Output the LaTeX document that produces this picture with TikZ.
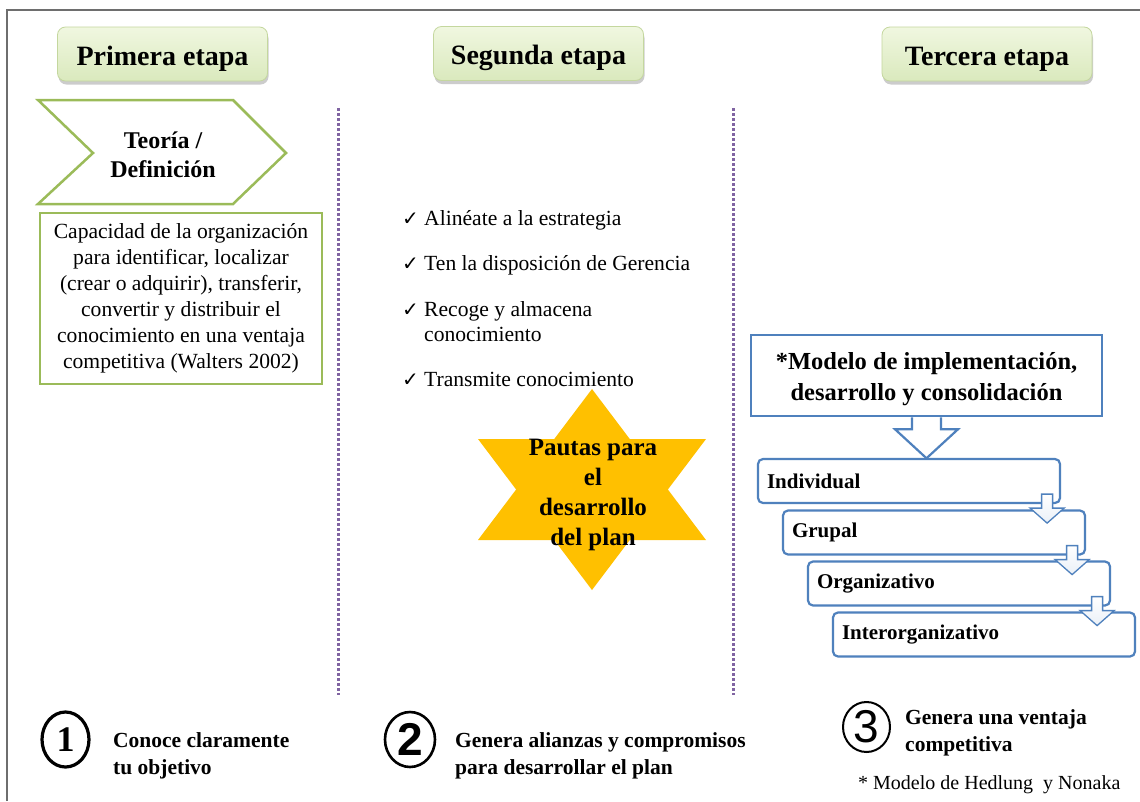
\documentclass[tikz,border=0pt]{standalone}
\usepackage{fontspec}
\setmainfont{Liberation Serif}
\newfontfamily\symfont{DejaVu Sans}
\newfontfamily\sansfnt{Liberation Sans}
\usetikzlibrary{shadows,calc,shapes.geometric}
\definecolor{hdrtop}{HTML}{F0F7E0}
\definecolor{hdrbot}{HTML}{DAE9BD}
\definecolor{hdredge}{HTML}{C4D79E}
\definecolor{grn}{HTML}{9BBB59}
\definecolor{purp}{HTML}{8064A2}
\definecolor{blu}{HTML}{4F81BD}
\definecolor{gold}{HTML}{FFC000}
\definecolor{framegray}{HTML}{6E6E6E}
\begin{document}
\begin{tikzpicture}[x=1pt,y=-1pt,
  hdr/.style={draw=hdredge, line width=0.8pt, rounded corners=8pt,
    top color=hdrtop, bottom color=hdrbot, minimum width=210pt, minimum height=54pt,
    text height=22pt, text depth=0pt,
    font=\fontsize{28}{32}\selectfont\bfseries,
    drop shadow={shadow xshift=1pt, shadow yshift=-3.5pt, opacity=0.4}},
  body/.style={font=\fontsize{21.6}{26}\selectfont},
  chk/.style={font=\symfont\fontsize{20}{20}\selectfont, anchor=base east, inner sep=0pt},
  item/.style={body, anchor=base west, inner sep=0pt, align=left},
  stk/.style={draw=blu, line width=2.2pt, rounded corners=5pt, fill=white,
    minimum width=302pt, minimum height=44pt, text width=284pt, inner xsep=9pt,
    align=left, font=\fontsize{21}{25}\selectfont\bfseries},
  bot/.style={anchor=west, inner sep=0pt, align=left, font=\fontsize{21.5}{27}\selectfont\bfseries},
  numc/.style={ellipse, draw, inner sep=0pt},
  sdown/.pic={\draw[blu, line width=1.3pt, top color=white, bottom color=blu!12]
     (-5.5,0) -- (5.5,0) -- (5.5,14) -- (17,14) -- (0,29) -- (-17,14) -- (-5.5,14) -- cycle;},
  bigdown/.pic={\draw[blu, line width=2.2pt, fill=white]
     (-14.5,0) -- (-14.5,12) -- (-31.5,12) -- (0,41) -- (31.5,12) -- (14.5,12) -- (14.5,0);}
]
\useasboundingbox (0,0) rectangle (1140,801);
\fill[white] (0,0) rectangle (1140,801);
% frame
\draw[framegray, line width=1.2pt] (7,801) -- (7,10) -- (1140,10);

% headers
\node[hdr] (h1) at (162.5,54) {Primera etapa};
\node[hdr] (h2) at (538.5,53.5) {Segunda etapa};
\node[hdr] (h3) at (987,54) {Tercera etapa};

% separators
\draw[purp, line width=3pt, dash pattern=on 2.5pt off 2.5pt] (338,108) -- (338,695);
\draw[purp, line width=3pt, dash pattern=on 2.5pt off 2.5pt] (733,108) -- (733,695);

% chevron
\draw[grn, line width=2.5pt, fill=white, line join=miter]
  (38,100) -- (233,100) -- (286,153) -- (233,204) -- (38,204) -- (93,153) -- cycle;
\node[align=center, font=\fontsize{24}{29}\selectfont\bfseries] (teoria) at (163,155) {Teoría /\\Definición};

% definition box
\node[draw=grn, line width=2.5pt, minimum width=282pt, minimum height=171pt, align=center, body]
  (def) at (181,298.5) {Capacidad de la organización\\para identificar, localizar\\(crear o adquirir), transferir,\\convertir y distribuir el\\conocimiento en una ventaja\\competitiva (Walters 2002)};

% checklist
\node[chk] (k1) at (419,225.5) {✓};
\node[item] (c1) at (424,225.5) {Alinéate a la estrategia};
\node[chk] (k2) at (419,270.5) {✓};
\node[item] (c2) at (424,270.5) {Ten la disposición de Gerencia};
\node[chk] (k3) at (419,316) {✓};
\node[item] (c3) at (424,316) {Recoge y almacena};
\node[item] (c3b) at (424,341.5) {conocimiento};
\node[chk] (k4) at (419,386.5) {✓};
\node[item] (c4) at (424,386.5) {Transmite conocimiento};

% star
\fill[gold] (592,389) -- (706,540) -- (478,540) -- cycle;
\fill[gold] (592,590) -- (706,439) -- (478,439) -- cycle;
\node[align=center, font=\fontsize{25}{30}\selectfont\bfseries] (pautas) at (593,495)
  {Pautas para\\el\\desarrollo\\del plan};

% model box
\node[draw=blu, line width=2.5pt, fill=white, minimum width=351pt, minimum height=81pt]
  (modelo) at (926.5,375.5) {};
\node[align=center, font=\fontsize{24.5}{31}\selectfont\bfseries] (modelotxt)
  at ($(modelo.center)+(0,4)$) {*Modelo de implementación,\\desarrollo y consolidación};
\pic at (modelo.south) {bigdown};

% stacked levels
\node[stk] (ind) at (909,481) {Individual};
\node[stk] (grp) at (934,532.5) {Grupal};
\node[stk] (org) at (959,583.5) {Organizativo};
\node[stk] (inter) at (984,634.5) {Interorganizativo};
\pic at ($(ind.south east)+(-14,-10)$) {sdown};
\pic at ($(grp.south east)+(-14,-10)$) {sdown};
\pic at ($(org.south east)+(-14,-10)$) {sdown};

% bottom numbered items
\node[numc, line width=3.2pt, minimum width=47pt, minimum height=55pt,
  font=\fontsize{36}{36}\selectfont\bfseries] (n1) at (65.5,739.5) {1};
\node[bot] (t1) at (113,756) {Conoce claramente\\tu objetivo};
\node[numc, line width=2.6pt, minimum width=50pt, minimum height=55pt,
  font=\sansfnt\fontsize{46}{46}\selectfont\bfseries] (n2) at (410,739.5) {2};
\node[bot] (t2) at (455,756) {Genera alianzas y compromisos\\para desarrollar el plan};
\node[numc, line width=2pt, minimum width=47pt, minimum height=50pt,
  font=\sansfnt\fontsize{46}{46}\selectfont] (n3) at (866.5,727) {3};
\node[bot] (t3) at (905,733) {Genera una ventaja\\competitiva};
\node[anchor=west, inner sep=0pt, font=\fontsize{20}{24}\selectfont] (fn) at (858,785)
  {* Modelo de Hedlung\ \ y Nonaka};
\end{tikzpicture}
\end{document}
